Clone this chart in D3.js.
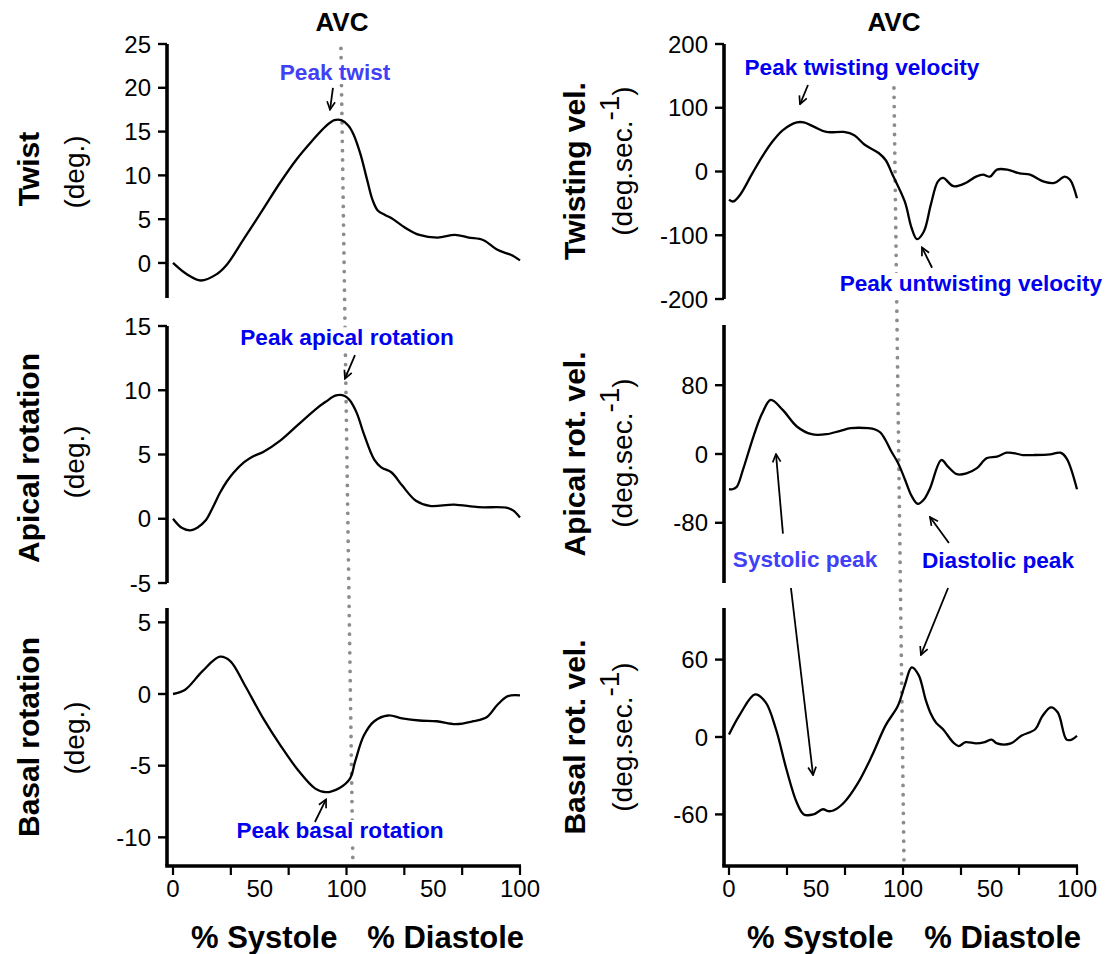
<!DOCTYPE html>
<html>
<head>
<meta charset="utf-8">
<script src="https://cdn.jsdelivr.net/npm/d3@7"></script>
<style>
  body { margin: 0; background: #fff; }
  text { font-family: "Liberation Sans", Arial, Helvetica, sans-serif; }
</style>
</head>
<body>
<svg id="chart" width="1107" height="954"></svg>
<script>
// Cardiac cycle axis: 0–100 = % systole, 100–200 = % diastole (labelled 0–100 again)

// ---- Twist (deg.) ----
const twistX = [0, 8, 16, 25, 31, 41, 51.5, 61.5, 71.5, 80, 88, 93, 97, 101, 104, 108, 112, 115, 118, 122, 126, 134, 142, 152.5, 162.5, 170.5, 179, 187, 195, 200];
const twistY = [0, -1.3, -2.0, -1.3, -0.2, 2.8, 6.0, 9.1, 11.9, 13.9, 15.6, 16.3, 16.3, 15.7, 14.7, 12.45, 9.4, 7.2, 6.0, 5.5, 5.1, 4.0, 3.2, 2.9, 3.2, 2.9, 2.6, 1.5, 0.9, 0.3];

// ---- Apical rotation (deg.) ----
const apicalX = [0, 5, 10, 14, 19, 23, 27, 31, 35, 41, 46, 52, 62, 72, 82, 88, 94, 99, 102, 106, 110, 116, 120, 126, 132, 140, 148, 162, 176, 192, 196, 200];
const apicalY = [0, -0.7, -0.9, -0.7, -0.1, 0.9, 2.0, 2.9, 3.6, 4.4, 4.85, 5.2, 6.1, 7.3, 8.5, 9.1, 9.6, 9.55, 9.2, 8.2, 6.6, 4.6, 4.0, 3.6, 2.6, 1.4, 1.0, 1.1, 0.9, 0.86, 0.65, 0.1];

// ---- Basal rotation (deg.) ----
const basalX = [0, 7, 17, 27, 33, 41, 52, 62, 72, 82, 88, 96, 102, 105, 110, 116, 124, 132, 142, 152, 163, 173, 181, 187, 193, 200];
const basalY = [0, 0.3, 1.6, 2.6, 2.3, 0.7, -1.7, -3.6, -5.3, -6.6, -6.85, -6.55, -5.9, -4.7, -2.9, -1.9, -1.5, -1.7, -1.85, -1.9, -2.1, -1.9, -1.6, -0.75, -0.15, -0.1];

// ---- Twisting velocity (deg.sec.-1) ----
const twistVelX = [0, 2.5, 6.5, 13, 19, 25, 31, 39, 43, 49, 56, 66, 72, 78, 86, 90, 94, 101, 105, 108, 112, 116, 120, 123, 129, 136, 142, 146, 150, 154, 160, 167, 173, 181, 187, 193, 196, 200];
const twistVelY = [-44, -47, -36, -5, 23, 47, 65, 77, 77, 70, 62, 62, 57, 42, 29, 18, -5, -47, -89, -106, -94, -52, -16, -10, -23, -18, -8, -5, -8, 3, 3, -3, -5, -16, -18, -8, -13, -42];

// ---- Apical rotation velocity (deg.sec.-1) ----
const apicalVelX = [0, 2, 4.5, 8, 14, 19, 24, 31, 39, 47.5, 56, 64, 70, 80, 84, 87, 90, 93, 97, 101, 105, 108.5, 112, 115.5, 122, 126, 131, 136.5, 142.5, 148, 154, 159.5, 163.5, 169, 175, 184.5, 190.5, 194, 200];
const apicalVelY = [-41, -41, -38, -18.5, 20, 47, 63, 51, 32, 23, 23, 27, 30, 30, 28.5, 25, 16, 4, -10, -29, -49, -58, -53, -40, -7, -15, -23.5, -22.5, -16.5, -5, -3, 1.5, 1, -1.2, -1.2, -0.4, 1.5, -5, -41];

// ---- Basal rotation velocity (deg.sec.-1) ----
const basalVelX = [0, 6.5, 15, 21, 27, 33, 39, 43, 48.5, 54, 57, 60, 66, 74, 82, 90, 97, 101, 105, 109, 113, 116, 119, 123, 129, 132, 136, 142, 147, 151, 154, 162, 168, 176, 180, 185, 189, 194, 197, 200];
const basalVelY = [2, 18, 33, 27, 6, -25, -51, -60, -60, -56, -57.5, -57, -51, -36, -15, 9, 24, 40, 54, 48, 29, 18, 11, 6, -4.4, -7, -4, -5, -4, -2, -5, -5, 1, 6, 16, 23, 19, -2, -2, 1];

// ---- Axis ticks ----
const twistTicks = [25, 20, 15, 10, 5, 0];
const apicalTicks = [15, 10, 5, 0, -5];
const basalTicks = [5, 0, -5, -10];
const twistVelTicks = [200, 100, 0, -100, -200];
const apicalVelTicks = [80, 0, -80];
const basalVelTicks = [60, 0, -60];
const xTickMarks = [0, 200 / 6, 400 / 6, 100, 800 / 6, 1000 / 6, 200];
const xLabelValues = [0, 50, 100, 150, 200];
const xLabelTexts = ["0", "50", "100", "50", "100"];

// Aortic valve closure marker (slightly slanted dotted line), in axis units
const avcLeft = [96.8, 103.7];
const avcRight = [94.8, 100.6];

const svg = d3.select("#chart");
const defs = svg.append("defs");
defs.append("marker")
  .attr("id", "arrowhead")
  .attr("viewBox", "0 0 10 10")
  .attr("refX", 9).attr("refY", 5)
  .attr("markerWidth", 10).attr("markerHeight", 10)
  .attr("markerUnits", "userSpaceOnUse")
  .attr("orient", "auto")
  .append("path")
  .attr("d", "M1,1 L9,5 L1,9")
  .attr("fill", "none")
  .attr("stroke", "#000")
  .attr("stroke-width", 1.7);

const xLeft = d3.scaleLinear().domain([0, 200]).range([173, 520]);
const xRight = d3.scaleLinear().domain([0, 200]).range([729, 1077]);

const columns = [
  { x: xLeft, axisX: 167, titleX: 39, unitX: 84, avc: avcLeft },
  { x: xRight, axisX: 724, titleX: 585, unitX: 632, avc: avcRight }
];

const panels = [
  { col: 0, y: d3.scaleLinear().domain([-4, 25]).range([298, 44]), xs: twistX, ys: twistY, ticks: twistTicks,
    title: "Twist", unit: "deg", titleY: 169, unitY: 172 },
  { col: 0, y: d3.scaleLinear().domain([-5, 15]).range([583, 326]), xs: apicalX, ys: apicalY, ticks: apicalTicks,
    title: "Apical rotation", unit: "deg", titleY: 458, unitY: 462 },
  { col: 0, y: d3.scaleLinear().domain([-12, 6]).range([866, 608]), xs: basalX, ys: basalY, ticks: basalTicks,
    title: "Basal rotation", unit: "deg", titleY: 737, unitY: 738, bottom: true },
  { col: 1, y: d3.scaleLinear().domain([-200, 200]).range([299, 44]), xs: twistVelX, ys: twistVelY, ticks: twistVelTicks,
    title: "Twisting vel.", unit: "vel", titleY: 171, unitY: 161 },
  { col: 1, y: d3.scaleLinear().domain([-150, 150]).range([583, 325]), xs: apicalVelX, ys: apicalVelY, ticks: apicalVelTicks,
    title: "Apical rot. vel.", unit: "vel", titleY: 454, unitY: 453 },
  { col: 1, y: d3.scaleLinear().domain([-100, 100]).range([866, 608]), xs: basalVelX, ys: basalVelY, ticks: basalVelTicks,
    title: "Basal rot. vel.", unit: "vel", titleY: 737, unitY: 737, bottom: true }
];

// ---- AVC dotted lines and labels (drawn first, so labels and curves sit on top) ----
[[0, 0, 2, 24.5], [1, 3, 5, 131]].forEach(([c, topP, botP, topVal]) => {
  const col = columns[c];
  const x1 = col.x(col.avc[0]), y1 = panels[topP].y(topVal);
  const x2 = col.x(col.avc[1]), y2 = panels[botP].y.range()[0];
  svg.append("line")
    .attr("x1", x1).attr("y1", y1).attr("x2", x2).attr("y2", y2)
    .attr("stroke", "#8c8c8c").attr("stroke-width", 3.8)
    .attr("stroke-linecap", "round").attr("stroke-dasharray", "0,9.3");
  svg.append("text")
    .attr("x", col.x(col.avc[0]) + (c === 0 ? 1 : 0)).attr("y", 31)
    .attr("text-anchor", "middle")
    .attr("font-size", 26).attr("font-weight", "bold")
    .text("AVC");
});

// ---- Panels ----
panels.forEach(p => {
  const col = columns[p.col];
  const g = svg.append("g");
  const [yBot, yTop] = p.y.range();

  // y axis
  g.append("line")
    .attr("x1", col.axisX).attr("x2", col.axisX)
    .attr("y1", yTop).attr("y2", yBot)
    .attr("stroke", "#000").attr("stroke-width", 3.6);
  p.ticks.forEach(t => {
    g.append("line")
      .attr("x1", col.axisX - 9).attr("x2", col.axisX)
      .attr("y1", p.y(t)).attr("y2", p.y(t))
      .attr("stroke", "#000").attr("stroke-width", 2.4);
    g.append("text")
      .attr("x", col.axisX - 16).attr("y", p.y(t))
      .attr("dy", "0.36em")
      .attr("text-anchor", "end")
      .attr("font-size", 24)
      .text(t);
  });

  // x axis only on bottom row
  if (p.bottom) {
    g.append("line")
      .attr("x1", col.axisX - 1.8).attr("x2", col.x(200) + 1)
      .attr("y1", yBot).attr("y2", yBot)
      .attr("stroke", "#000").attr("stroke-width", 3.6);
    xTickMarks.forEach(t => {
      g.append("line")
        .attr("x1", col.x(t)).attr("x2", col.x(t))
        .attr("y1", yBot).attr("y2", yBot + 9)
        .attr("stroke", "#000").attr("stroke-width", 2.2);
    });
    xLabelValues.forEach((v, i) => {
      g.append("text")
        .attr("x", col.x(v)).attr("y", yBot + 31)
        .attr("text-anchor", "middle")
        .attr("font-size", 24)
        .text(xLabelTexts[i]);
    });
    g.append("text")
      .attr("x", col.x(0) + 18).attr("y", yBot + 82)
      .attr("font-size", 31).attr("font-weight", "bold")
      .text("% Systole");
    g.append("text")
      .attr("x", col.x(200) + 4).attr("y", yBot + 82)
      .attr("text-anchor", "end")
      .attr("font-size", 31).attr("font-weight", "bold")
      .text("% Diastole");
  }

  // curve
  const pts = p.xs.map((x, i) => [x, p.ys[i]]);
  const line = d3.line()
    .x(d => col.x(d[0]))
    .y(d => p.y(d[1]))
    .curve(d3.curveCatmullRom.alpha(0.5));
  g.append("path")
    .datum(pts)
    .attr("d", line)
    .attr("fill", "none")
    .attr("stroke", "#000")
    .attr("stroke-width", 2.3)
    .attr("stroke-linejoin", "round");

  // y titles (rotated)
  g.append("text")
    .attr("transform", `translate(${col.titleX},${p.titleY}) rotate(-90)`)
    .attr("text-anchor", "middle")
    .attr("font-size", 30).attr("font-weight", "bold")
    .text(p.title);
  const unit = g.append("text")
    .attr("transform", `translate(${col.unitX},${p.unitY}) rotate(-90)`)
    .attr("text-anchor", "middle")
    .attr("font-size", 28);
  if (p.unit === "deg") {
    unit.text("(deg.)");
  } else {
    unit.append("tspan").text("(deg.sec.");
    unit.append("tspan").attr("dy", "-0.45em").text("-1");
    unit.append("tspan").attr("dy", "0.45em").text(")");
  }
});

// ---- Annotations (text anchored in each panel's own units) ----
const strongBlue = "#0000ee", softBlue = "#4040f6";
const annotations = [
  { text: "Peak twist", color: softBlue, p: 0, tx: 93.4, ty: 20.9,
    arrows: [{ p: 0, from: [92.2, 20.0], to: [90.5, 17.5] }] },
  { text: "Peak twisting velocity", color: strongBlue, p: 3, tx: 76.4, ty: 151,
    arrows: [{ p: 3, from: [45.4, 135.7], to: [40.8, 105.5] }] },
  { text: "Peak untwisting velocity", color: strongBlue, p: 3, tx: 139, ty: -187.5,
    arrows: [{ p: 3, from: [116.7, -151], to: [110.9, -119] }] },
  { text: "Peak apical rotation", color: strongBlue, p: 1, tx: 100.3, ty: 13.5,
    arrows: [{ p: 1, from: [104.9, 12.74], to: [99.1, 10.9] }] },
  { text: "Systolic peak", color: softBlue, p: 4, tx: 43.7, ty: -131.4,
    arrows: [{ p: 4, from: [31, -92.6], to: [27, 0] }, { p: 5, from: [35.6, 115.5], to: [48.3, -29.5] }] },
  { text: "Diastolic peak", color: strongBlue, p: 4, tx: 154.6, ty: -132.6,
    arrows: [{ p: 4, from: [126.4, -103.5], to: [115.5, -73.3] }, { p: 5, from: [125.9, 115.5], to: [110.3, 63.6] }] },
  { text: "Peak basal rotation", color: strongBlue, p: 2, tx: 96.3, ty: -10.05,
    arrows: [{ p: 2, from: [81.8, -8.93], to: [88.2, -7.35] }] }
];

annotations.forEach(a => {
  const pan = panels[a.p];
  const col = columns[pan.col];
  const g = svg.append("g");
  const bg = g.append("rect").attr("fill", "#fff");
  const t = g.append("text")
    .attr("x", col.x(a.tx)).attr("y", pan.y(a.ty))
    .attr("text-anchor", "middle")
    .attr("font-size", 22.6).attr("font-weight", "bold")
    .attr("fill", a.color)
    .text(a.text);
  const bb = t.node().getBBox();
  bg.attr("x", bb.x - 1).attr("y", bb.y + 2).attr("width", bb.width + 2).attr("height", bb.height - 3);
  a.arrows.forEach(ar => {
    const ap = panels[ar.p];
    const ac = columns[ap.col];
    svg.append("line")
      .attr("x1", ac.x(ar.from[0])).attr("y1", ap.y(ar.from[1]))
      .attr("x2", ac.x(ar.to[0])).attr("y2", ap.y(ar.to[1]))
      .attr("stroke", "#000").attr("stroke-width", 1.8)
      .attr("marker-end", "url(#arrowhead)");
  });
});
</script>
</body>
</html>
